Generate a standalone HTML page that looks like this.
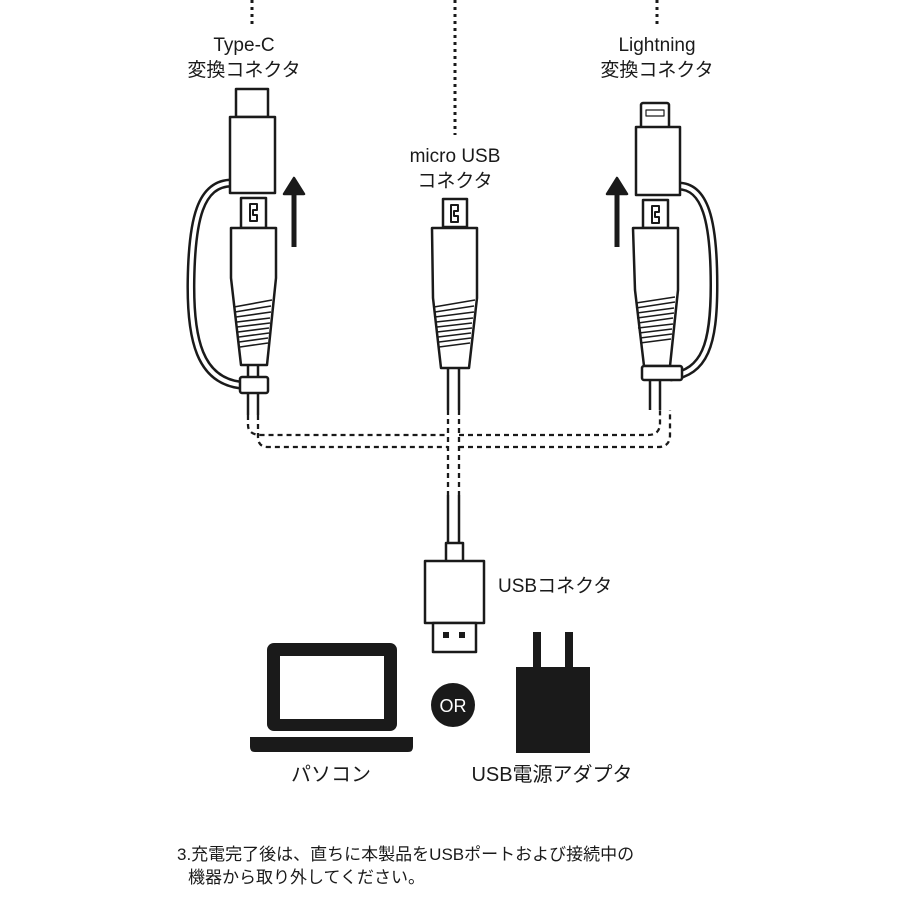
<!DOCTYPE html>
<html><head><meta charset="utf-8"><style>
html,body{margin:0;padding:0;background:#fff;}
svg{display:block;}
text{font-family:"Liberation Sans","Noto Sans CJK JP",sans-serif;fill:#1a1a1a;}
</style></head><body>
<svg width="900" height="900" viewBox="0 0 900 900" xmlns="http://www.w3.org/2000/svg">
<g stroke="#1a1a1a" stroke-width="3" stroke-dasharray="3,4" fill="none">
<line x1="252" y1="0" x2="252" y2="28"/>
<line x1="455" y1="0" x2="455" y2="135"/>
<line x1="657" y1="0" x2="657" y2="28"/>
</g>
<text x="244" y="51" font-size="19" text-anchor="middle">Type-C</text>
<text x="244" y="76" font-size="19" text-anchor="middle">変換コネクタ</text>
<text x="657" y="51" font-size="19" text-anchor="middle">Lightning</text>
<text x="657" y="76" font-size="19" text-anchor="middle">変換コネクタ</text>
<text x="455" y="162" font-size="19" text-anchor="middle">micro USB</text>
<text x="455" y="187" font-size="19" text-anchor="middle">コネクタ</text>

<g stroke="#1a1a1a" stroke-width="2.5" fill="#fff" stroke-linejoin="round">
<g fill="none" stroke-dasharray="5,4" stroke-width="2.3">
<path d="M248 415 V425 Q248 435 262 435 H448"/>
<path d="M258 415 V437 Q258 447 268 447 H448"/>
<path d="M448 410 V495"/><path d="M459 410 V495"/>
<path d="M459 435 H648 Q660 435 660 423 V410"/>
<path d="M459 447 H658 Q670 447 670 435 V410"/>
</g>
<g fill="none">
<path d="M248 365 V415 M258 365 V415"/>
<path d="M448 368 V410 M459 368 V410"/>
<path d="M448 495 V545 M459 495 V545"/>
<path d="M650 380 V410 M660 380 V410"/>
</g>

<path d="M232 183 C200 183 192 220 191 280 C190 340 200 380 240 385" fill="none" stroke-width="9"/>
<path d="M232 183 C200 183 192 220 191 280 C190 340 200 380 240 385" fill="none" stroke="#fff" stroke-width="4"/>
<rect x="236" y="89" width="32" height="28"/>
<rect x="230" y="117" width="45" height="76"/>
<rect x="241" y="198" width="25" height="30"/>
<path d="M250 204 h7 v6 h-4 v5 h4 v6 h-7 z" fill="none" stroke-width="2"/>
<path d="M231 228 H276 V278 L267 365 H241 L231 278 Z"/>
<g stroke-width="1.6"><path d="M234 307 L272 300 M235 312 L271 306 M236 317 L271 312 M237 322 L270 318 M237 327 L270 323 M238 332 L269 328 M239 337 L269 333 M239 342 L268 338 M240 347 L268 343"/></g>
<rect x="240" y="377" width="28" height="16" rx="2"/>
<path d="M294 247 V192" fill="none" stroke-width="5"/>
<path d="M284 194 L294 178 L304 194 Z" fill="#1a1a1a"/>

<rect x="443" y="199" width="24" height="28"/>
<path d="M451 205 h7 v6 h-4 v5 h4 v6 h-7 z" fill="none" stroke-width="2"/>
<path d="M432 228 H477 V298 L469 368 H441 L433 298 Z"/>
<g stroke-width="1.6"><path d="M434 307 L475 300 M435 312 L474 306 M435 317 L474 312 M436 322 L473 318 M437 327 L472 323 M437 332 L472 328 M438 337 L471 333 M439 342 L471 338 M439 347 L470 343"/></g>
<rect x="446" y="543" width="17" height="19"/>
<rect x="425" y="561" width="59" height="62"/>
<rect x="433" y="623" width="43" height="29"/>
<rect x="443" y="632" width="6" height="6" fill="#1a1a1a" stroke="none"/>
<rect x="459" y="632" width="6" height="6" fill="#1a1a1a" stroke="none"/>

<path d="M678 186 C705 186 714 220 714 285 C714 345 705 372 670 377" fill="none" stroke-width="9"/>
<path d="M678 186 C705 186 714 220 714 285 C714 345 705 372 670 377" fill="none" stroke="#fff" stroke-width="4"/>
<rect x="641" y="103" width="28" height="25" rx="2"/>
<rect x="646" y="110" width="18" height="6" fill="none" stroke-width="1.2"/>
<rect x="636" y="127" width="44" height="68"/>
<rect x="643" y="200" width="25" height="28"/>
<path d="M652 206 h7 v6 h-4 v5 h4 v6 h-7 z" fill="none" stroke-width="2"/>
<path d="M633 228 H678 V290 L670 366 H644 L635 290 Z"/>
<g stroke-width="1.6"><path d="M636 303 L675 297 M636 308 L675 302 M637 313 L674 308 M637 318 L674 313 M638 323 L673 318 M638 328 L673 324 M639 333 L672 329 M640 338 L672 334 M640 343 L671 339"/></g>
<rect x="642" y="366" width="40" height="14" rx="2"/>
<path d="M617 247 V192" fill="none" stroke-width="5"/>
<path d="M607 194 L617 178 L627 194 Z" fill="#1a1a1a"/>
</g>
<text x="498" y="592" font-size="19">USBコネクタ</text>

<rect x="267" y="643" width="130" height="88" rx="7" fill="#1a1a1a"/>
<rect x="280" y="656" width="104" height="63" fill="#fff"/>
<path d="M250 737 H413 V747 Q413 752 408 752 H255 Q250 752 250 747 Z" fill="#1a1a1a"/>
<circle cx="453" cy="705" r="22" fill="#1a1a1a"/>
<text x="453" y="712" font-size="18" text-anchor="middle" style="fill:#fff">OR</text>
<rect x="516" y="667" width="74" height="86" fill="#1a1a1a"/>
<rect x="533" y="632" width="8" height="36" fill="#1a1a1a"/>
<rect x="565" y="632" width="8" height="36" fill="#1a1a1a"/>
<text x="331" y="781" font-size="20" text-anchor="middle">パソコン</text>
<text x="552" y="781" font-size="20" text-anchor="middle">USB電源アダプタ</text>

<text x="177" y="860" font-size="17">3.充電完了後は、直ちに本製品をUSBポートおよび接続中の</text>
<text x="188" y="883" font-size="17">機器から取り外してください。</text>
</svg>
</body></html>
